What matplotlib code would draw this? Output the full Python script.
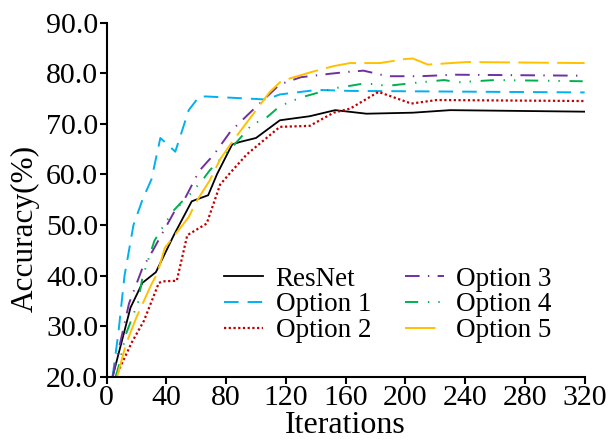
import matplotlib
matplotlib.use("Agg")
import matplotlib.pyplot as plt

# accuracy curves
resnet_x = [4, 16, 24, 33, 45, 57, 68, 74, 84, 89, 100, 116, 136, 153, 174, 205, 230, 320]
resnet_y = [20, 33.7, 38.6, 40.7, 48.0, 54.7, 55.9, 60.1, 65.9, 66.4, 67.2, 70.7, 71.5, 72.7, 72.0, 72.2, 72.7, 72.4]

opt1_x = [4, 8, 12, 18, 24, 30, 36, 46, 55, 62, 67, 107, 116, 141, 163, 320]
opt1_y = [20, 29, 40, 50, 55, 59, 67.2, 64.5, 72.7, 75.4, 75.4, 74.8, 75.8, 76.7, 76.5, 76.2]

opt2_x = [6, 17, 25, 35, 38, 47, 54, 67, 76, 83, 94, 116, 136, 152, 163, 182, 204, 221, 320]
opt2_y = [20, 26.9, 31.1, 38.6, 38.9, 39.0, 48.0, 50.3, 58.0, 60.4, 64.0, 69.4, 69.6, 72.2, 73.0, 76.3, 74.0, 74.7, 74.5]

opt3_x = [4, 15, 24, 31, 46, 52, 62, 72, 83, 96, 116, 130, 150, 163, 172, 188, 210, 233, 320]
opt3_y = [20, 34.5, 41.5, 45, 53, 55, 60.7, 64, 68.5, 72.2, 77.8, 79.2, 79.9, 80.3, 80.5, 79.4, 79.4, 79.7, 79.5]

opt4_x = [6, 8, 13, 21, 24, 32, 37, 44, 50, 55, 65, 69, 88, 98, 105, 116, 130, 152, 165, 173, 188, 210, 226, 235, 260, 320]
opt4_y = [20, 22, 28.5, 34.7, 39.6, 46.9, 49.3, 52.6, 54.5, 55.8, 59.2, 60.8, 66.7, 70.1, 70.7, 73.5, 75.2, 77.0, 77.6, 78.0, 77.5, 78.2, 78.65, 78.2, 78.65, 78.4]

opt5_x = [7, 13, 20, 30, 34, 39, 55, 60, 69, 76, 85, 96, 109, 116, 123, 138, 152, 163, 183, 200, 205, 215, 241, 320]
opt5_y = [20, 26.5, 31.8, 38.3, 40.5, 45.5, 51.6, 54.6, 58.8, 63.0, 66.8, 71.1, 76.2, 78.2, 79.0, 80.3, 81.4, 82.0, 82.0, 82.8, 82.9, 81.7, 82.2, 82.0]

x_ticks = [0, 40, 80, 120, 160, 200, 240, 280, 320]
y_ticks = [20, 30, 40, 50, 60, 70, 80, 90]

plt.rcParams['font.family'] = ['Liberation Serif', 'DejaVu Serif']
plt.rcParams['lines.scale_dashes'] = False

fig = plt.figure(figsize=(6.09, 4.42), dpi=100)
ax = fig.add_axes([0.175, 0.147, 0.785, 0.802])

ax.plot(resnet_x, resnet_y, color='black', lw=1.3, label='ResNet')
ax.plot(opt1_x, opt1_y, color='#00B0F0', lw=1.4, dashes=(10.5, 6.5), label='Option 1')
ax.plot(opt2_x, opt2_y, color='#C00000', lw=1.6, dashes=(1.6, 1.8), label='Option 2')
ax.plot(opt3_x, opt3_y, color='#7030A0', lw=1.4, dashes=(10.5, 6, 1, 6), label='Option 3')
ax.plot(opt4_x, opt4_y, color='#00B050', lw=1.4, dashes=(9.5, 7, 1, 6.5, 1, 7), label='Option 4')
ax.plot(opt5_x, opt5_y, color='#FFC000', lw=1.4, dashes=(22, 6), label='Option 5')

ax.set_xlim(0, 320)
ax.set_ylim(20, 90)
ax.set_xticks(x_ticks)
ax.set_yticks(y_ticks)
ax.set_yticklabels(['%.1f' % v for v in y_ticks])
ax.tick_params(labelsize=21.5, width=1.5, length=5, direction='out', pad=1)
for s in ['top', 'right']:
    ax.spines[s].set_visible(False)
for s in ['left', 'bottom']:
    ax.spines[s].set_linewidth(1.5)

ax.set_xlabel('Iterations', fontsize=23, labelpad=0)
ax.set_ylabel('Accuracy(%)', fontsize=22.5)
ax.yaxis.set_label_coords(-0.139, 0.42)

ax.legend(ncol=2, frameon=False, fontsize=19.5, handlelength=1.45, labelspacing=0.02,
          columnspacing=1.25, handletextpad=0.45,
          loc='center', bbox_to_anchor=(0.637, 0.31), bbox_transform=fig.transFigure)

fig.savefig('out.png', dpi=100)
